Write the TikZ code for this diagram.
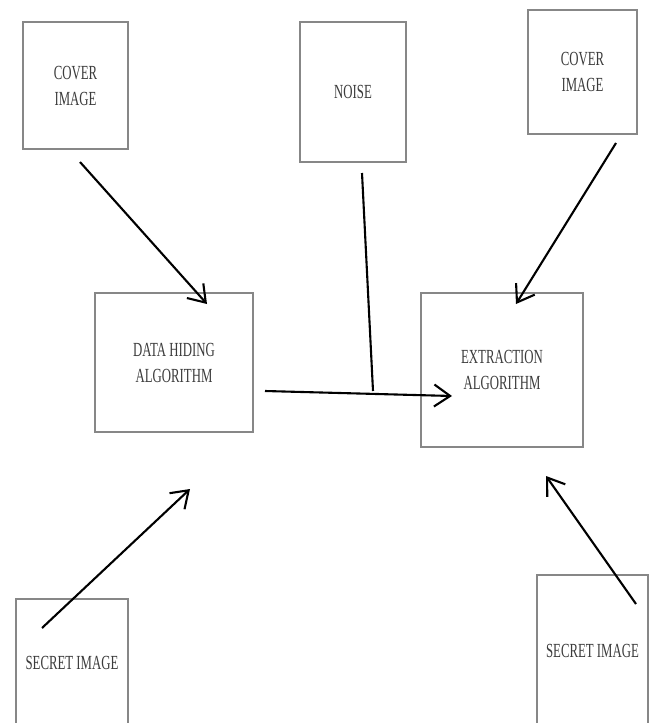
\documentclass[tikz,border=0pt]{standalone}
\usepackage{fontspec}
\usetikzlibrary{arrows.meta}
\newfontfamily\narrowserif[FakeStretch=0.64]{Liberation Serif}
\definecolor{boxline}{RGB}{135,135,135}
\definecolor{boxtext}{RGB}{60,60,60}
\tikzset{
  blockbox/.style={draw=boxline, line width=1.4pt, fill=white, align=center,
    font=\narrowserif\fontsize{20}{26}\selectfont, text=boxtext, inner sep=0pt},
  flow/.style={line width=2.1pt, -{Straight Barb[length=16pt,width=22pt]}},
  plainline/.style={line width=2.1pt}
}
\begin{document}
\begin{tikzpicture}[x=1pt,y=-1pt]
\useasboundingbox (0,0) rectangle (655,723);
\clip (0,0) rectangle (655,723);
\fill[white] (0,0) rectangle (655,723);
% boxes
\node[blockbox, minimum width=105pt, minimum height=127pt] (cov1) at (75.5,85.5) {COVER\\IMAGE};
\node[blockbox, minimum width=106pt, minimum height=140pt] (noise) at (353,92) {NOISE};
\node[blockbox, minimum width=109pt, minimum height=124pt] (cov2) at (582.5,72) {COVER\\IMAGE};
\node[blockbox, minimum width=158pt, minimum height=139pt] (hide) at (174,362.5) {DATA HIDING\\ALGORITHM};
\node[blockbox, minimum width=162pt, minimum height=154pt] (extr) at (502,370) {EXTRACTION\\ALGORITHM};
\node[blockbox, minimum width=112pt, minimum height=128pt] (sec1) at (72,663) {SECRET IMAGE};
\node[blockbox, minimum width=111pt, minimum height=152pt] (sec2) at (592.5,651) {SECRET IMAGE};
% connector end points
\coordinate (c1s) at (80,162);
\coordinate (c1e) at (207,304);
\coordinate (c2s) at (616,143);
\coordinate (c2e) at (516,304);
\coordinate (ns) at (362,173);
\coordinate (ne) at (373,391);
\coordinate (hs) at (265,391);
\coordinate (he) at (452,396);
\coordinate (s1s) at (42,628);
\coordinate (s1e) at (190,489);
\coordinate (s2s) at (636,604);
\coordinate (s2e) at (546,476);
% connectors
\draw[flow] (c1s) -- (c1e);
\draw[flow] (c2s) -- (c2e);
\draw[plainline] (ns) -- (ne);
\draw[flow] (hs) -- (he);
\draw[flow] (s1s) -- (s1e);
\draw[flow] (s2s) -- (s2e);
\end{tikzpicture}
\end{document}
